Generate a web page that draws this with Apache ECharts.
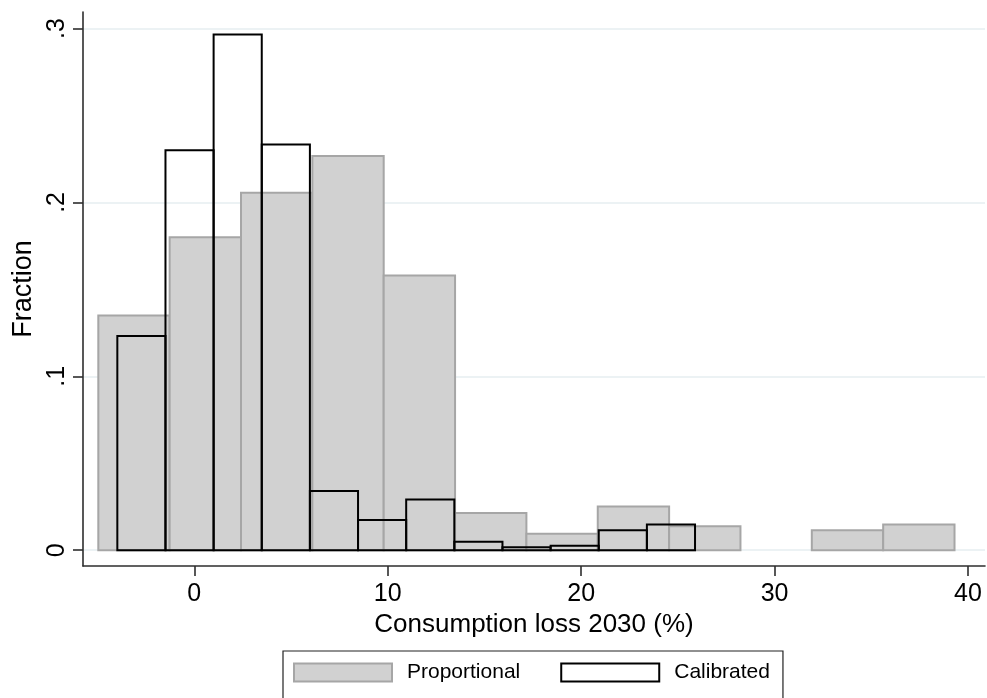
<!DOCTYPE html>
<html>
<head>
<meta charset="utf-8">
<script src="https://cdn.jsdelivr.net/npm/echarts@6/dist/echarts.min.js"></script>
<style>
  html, body { margin: 0; padding: 0; background: #ffffff; }
  #chart { width: 987px; height: 698px; }
</style>
</head>
<body>
<div id="chart"></div>
<script>
// Histogram of consumption loss in 2030 under two scenarios (fraction of units per bin)
const seriesNames = ['Proportional', 'Calibrated'];

// Proportional scenario: 12 equal-width bins
const propBinStart = -4.964;
const propBinWidth = 3.689;
const propFraction = [0.135, 0.180, 0.2055, 0.2267, 0.158, 0.0214, 0.0095, 0.0251, 0.0138, 0, 0.0115, 0.0147];

// Calibrated scenario: 12 equal-width bins
const calBinStart = -3.98;
const calBinWidth = 2.489;
const calFraction = [0.1232, 0.230, 0.2966, 0.2333, 0.0341, 0.0173, 0.0291, 0.0048, 0.0017, 0.0025, 0.0115, 0.0147];

// Axis ticks and titles
const xTicks = [0, 10, 20, 30, 40];
const yTicks = [0, 0.1, 0.2, 0.3];
const xTitle = 'Consumption loss 2030 (%)';
const yTitle = 'Fraction';

const FONT = '"Liberation Sans", Arial, Helvetica, sans-serif';
const AXIS_COLOR = '#2e2e2e';

// [lower edge, upper edge, fraction] for every bin
function toBins(start, width, values) {
  return values.map((v, i) => [start + i * width, start + (i + 1) * width, v]);
}

const propStyle = { fill: '#d1d1d1', stroke: '#a6a6a6', lineWidth: 2 };
const calStyle = { fill: 'none', stroke: '#000000', lineWidth: 2 };

function barRenderer(style) {
  return function (params, api) {
    const v = api.value(2);
    if (!v) return null;
    const topLeft = api.coord([api.value(0), v]);
    const bottomRight = api.coord([api.value(1), 0]);
    return {
      type: 'rect',
      shape: {
        x: topLeft[0],
        y: topLeft[1],
        width: bottomRight[0] - topLeft[0],
        height: bottomRight[1] - topLeft[1]
      },
      style: style
    };
  };
}

const chart = echarts.init(document.getElementById('chart'), null, { renderer: 'canvas' });

const option = {
  animation: false,
  backgroundColor: '#ffffff',
  textStyle: { fontFamily: FONT, color: '#000000' },
  grid: { left: 83, right: 2, top: 12, bottom: 132, containLabel: false, outerBoundsMode: 'none' },
  xAxis: {
    type: 'value',
    min: -5.755,
    max: 40.88,
    axisLine: { show: true, onZero: false, lineStyle: { color: AXIS_COLOR, width: 1.6 } },
    axisTick: { show: true, customValues: xTicks, length: 10, inside: false, lineStyle: { color: AXIS_COLOR, width: 1.6 } },
    axisLabel: { customValues: xTicks, fontSize: 25, color: '#000000', margin: 16, fontFamily: FONT },
    splitLine: { show: false },
    name: xTitle,
    nameLocation: 'middle',
    nameGap: 45,
    nameTextStyle: { fontSize: 26, color: '#000000', fontFamily: FONT }
  },
  yAxis: {
    type: 'value',
    min: -0.0091,
    max: 0.3095,
    axisLine: { show: true, onZero: false, lineStyle: { color: AXIS_COLOR, width: 1.6 } },
    axisTick: { show: true, customValues: yTicks, length: 10, inside: false, lineStyle: { color: AXIS_COLOR, width: 1.6 } },
    axisLabel: {
      customValues: yTicks,
      rotate: 90,
      fontSize: 25,
      color: '#000000',
      margin: 13,
      fontFamily: FONT,
      formatter: v => (v === 0 ? '0' : String(v).replace(/^0/, ''))
    },
    splitLine: { show: true, lineStyle: { color: '#e6eef0', width: 1.5 } },
    name: yTitle,
    nameLocation: 'middle',
    nameRotate: 90,
    nameGap: 45,
    nameTextStyle: { fontSize: 27, color: '#000000', fontFamily: FONT }
  },
  legend: {
    show: true,
    left: 283,
    top: 651,
    orient: 'horizontal',
    icon: 'rect',
    itemWidth: 98,
    itemHeight: 18,
    itemGap: 40,
    selectedMode: false,
    borderColor: '#222222',
    borderWidth: 1.2,
    padding: [11, 13, 40, 10],
    textStyle: { fontSize: 21, color: '#000000', fontFamily: FONT, padding: [0, 0, 0, 10] },
    data: [
      { name: seriesNames[0], itemStyle: { color: '#d1d1d1', borderColor: '#a6a6a6', borderWidth: 2 } },
      { name: seriesNames[1], itemStyle: { color: '#ffffff', borderColor: '#000000', borderWidth: 2 } }
    ]
  },
  series: [
    {
      name: seriesNames[0],
      type: 'custom',
      renderItem: barRenderer(propStyle),
      encode: { x: [0, 1], y: 2 },
      itemStyle: { color: '#d1d1d1', borderColor: '#a6a6a6', borderWidth: 2 },
      data: toBins(propBinStart, propBinWidth, propFraction),
      z: 2
    },
    {
      name: seriesNames[1],
      type: 'custom',
      renderItem: barRenderer(calStyle),
      encode: { x: [0, 1], y: 2 },
      itemStyle: { color: '#ffffff', borderColor: '#000000', borderWidth: 2 },
      data: toBins(calBinStart, calBinWidth, calFraction),
      z: 3
    }
  ]
};

chart.setOption(option);
</script>
</body>
</html>
